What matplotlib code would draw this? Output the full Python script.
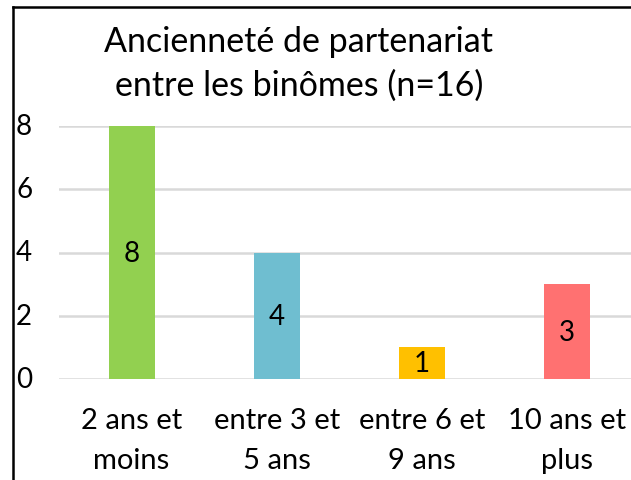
import numpy as np
import matplotlib.pyplot as plt
from matplotlib.lines import Line2D

categories = ["2 ans et\nmoins", "entre 3 et\n5 ans", "entre 6 et\n9 ans", "10 ans et\nplus"]
values = [8, 4, 1, 3]
colors = ["#92D050", "#6FBED0", "#FFC000", "#FF7171"]
yticks = [0, 2, 4, 6, 8]

plt.rcParams['font.family'] = ['Lato', 'DejaVu Sans']

W, H = 631, 481
fig = plt.figure(figsize=(W/100, H/100), dpi=100)

# axes spans past the right edge: the original is cropped there
x0, x1 = 59, 639.5
y0, y1 = 380, 127
ax = fig.add_axes([x0/W, 1 - y0/H, (x1 - x0)/W, (y0 - y1)/H])

x = np.arange(len(values))
bars = ax.bar(x, values, width=0.317, color=colors, zorder=3)
for b, v in zip(bars, values):
    ax.text(b.get_x() + b.get_width()/2, v/2, str(v), ha='center', va='center',
            fontsize=20, color='black', zorder=4)

ax.set_xlim(-0.5, len(values) - 0.5)
ax.set_ylim(0, 8)
ax.set_yticks(yticks)
ax.set_yticklabels([])
ax.yaxis.grid(True, color='#D9D9D9', linewidth=1.8, zorder=0)
ax.set_xticks([])
for s in ax.spines.values():
    s.set_visible(False)
ax.tick_params(left=False, bottom=False)

# tick labels placed near the frame
for t in yticks:
    yp = y0 - (y0 - y1) * t / 8
    fig.text(16/W, 1 - yp/H, str(t), ha='left', va='center', fontsize=20)

for xi, lab in zip(x, categories):
    ax.text(xi, -0.9, lab, ha='center', va='top', fontsize=21, linespacing=1.65)

fig.text(299/W, 1 - 64/H, "Ancienneté de partenariat\nentre les binômes (n=16)",
         ha='center', va='center', fontsize=24.5, linespacing=1.45)

# frame pieces visible in the crop
fig.add_artist(Line2D([13/W, 13/W], [0, 1 - 8/H], color='black', linewidth=1.8))
fig.add_artist(Line2D([13/W, 1], [1 - 8/H, 1 - 8/H], color='black', linewidth=1.8))

fig.savefig("out.png", dpi=100)
